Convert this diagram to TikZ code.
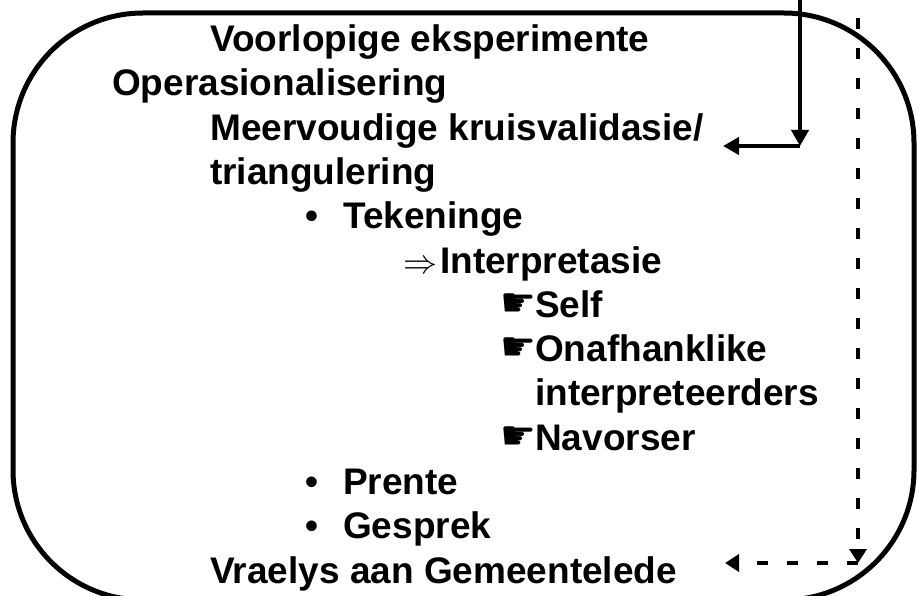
\documentclass[tikz,border=0pt]{standalone}
\usepackage{fontspec}
\setmainfont{Liberation Sans}
\newfontfamily\handfont{DejaVu Sans}
\usetikzlibrary{arrows.meta}

\newcommand{\wysvinger}{\makebox[35pt][l]{\raisebox{1pt}{\handfont\fontsize{40}{40}\selectfont ☛}}}
\newcommand{\kolletjie}{\makebox[38pt][l]{•}}
\newcommand{\dubbelpyl}{\makebox[37pt][l]{\resizebox{34pt}{!}{$\Rightarrow$}}}

\begin{document}
\begin{tikzpicture}[x=1pt,y=-1pt,
    teks/.style={anchor=base west, inner sep=0pt, font=\fontsize{37}{42}\selectfont\bfseries},
    pyl/.style={line width=4pt, -{Triangle[length=16pt,width=17pt]}},
    stippelpyl/.style={line width=4.5pt, dash pattern=on 11pt off 19pt, -{Triangle[length=14pt,width=17pt]}}]
  \useasboundingbox (0,0) rectangle (917,596);
  % Afgeronde raam
  \draw[line width=5pt, rounded corners=130pt] (13,13) rectangle (914,600);
  % Reëls van die lys
  \node[teks] (voorlopig) at (210,51.5) {Voorlopige eksperimente};
  \node[teks] (operasionalisering) at (112,95.8) {Operasionalisering};
  \node[teks] (meervoudig) at (210,140.1) {Meervoudige kruisvalidasie/};
  \node[teks] (triangulering) at (210,184.4) {triangulering};
  \node[teks] (tekeninge) at (305,228.7) {\kolletjie Tekeninge};
  \node[teks] (interpretasie) at (403,273) {\dubbelpyl Interpretasie};
  \node[teks] (self) at (500,317.3) {\wysvinger Self};
  \node[teks] (onafhanklik) at (500,361.6) {\wysvinger Onafhanklike};
  \node[teks] (interpreteerders) at (535,405.9) {interpreteerders};
  \node[teks] (navorser) at (500,450.2) {\wysvinger Navorser};
  \node[teks] (prente) at (305,494.5) {\kolletjie Prente};
  \node[teks] (gesprek) at (305,538.8) {\kolletjie Gesprek};
  \node[teks] (vraelys) at (210,583.1) {Vraelys aan Gemeentelede};
  % Soliede pyl van bo na die kruisvalidasie
  \coordinate (soliedbo) at (800,-2);
  \coordinate (soliedhoek) at (800,146);
  \coordinate (soliedpunt) at (723,146);
  \draw[pyl] (soliedbo) -- (soliedhoek);
  \draw[pyl] (soliedhoek) -- (soliedpunt);
  % Stippelpyl van bo na die vraelys
  \coordinate (stippelbo) at (858,18);
  \coordinate (stippelhoek) at (858,563);
  \coordinate (stippelpunt) at (725,563);
  \draw[stippelpyl] (stippelbo) -- (stippelhoek);
  \draw[stippelpyl] (stippelhoek) -- (stippelpunt);
\end{tikzpicture}
\end{document}
